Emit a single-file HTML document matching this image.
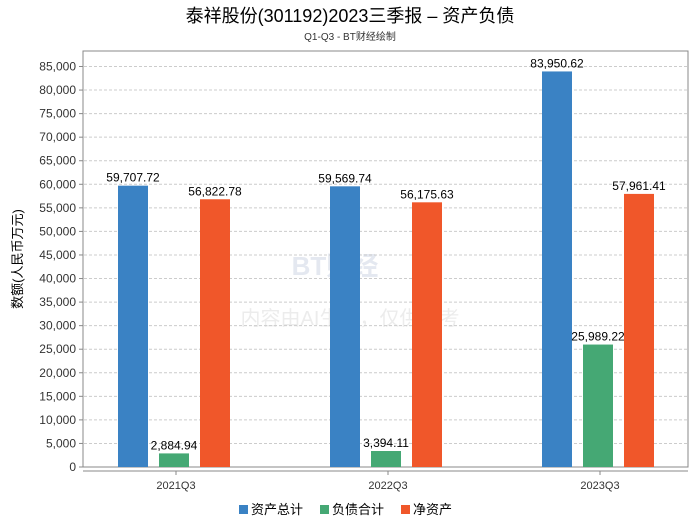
<!DOCTYPE html>
<html><head><meta charset="utf-8"><style>
body{margin:0;background:#fff;font-family:"Liberation Sans","Noto Sans CJK SC",sans-serif;}
svg text{font-family:"Liberation Sans","Noto Sans CJK SC",sans-serif;}
</style></head><body>
<svg id="c" width="700" height="524">
<text x="350" y="22" text-anchor="middle" font-size="18" fill="#000">泰祥股份(301192)2023三季报 – 资产负债</text>
<text x="350" y="40" text-anchor="middle" font-size="10" fill="#333">Q1-Q3 - BT财经绘制</text>
<rect x="83" y="51" width="605" height="416" fill="#fff" stroke="#888"/>
<text x="335" y="275" text-anchor="middle" font-size="26" fill="#e4e8f0" font-weight="bold">BT财经</text>
<text x="350" y="325" text-anchor="middle" font-size="20" fill="#ececec">内容由AI生成，仅供参考</text>
<text transform="translate(22,259) rotate(-90)" text-anchor="middle" font-size="13" fill="#000">数额(人民币万元)</text>
<g id="g"></g>
<g id="legend">
<rect x="239" y="505" width="9" height="9" fill="#3a82c4"/><text x="251" y="514" font-size="13">资产总计</text>
<rect x="320" y="505" width="9" height="9" fill="#45a874"/><text x="332" y="514" font-size="13">负债合计</text>
<rect x="401" y="505" width="9" height="9" fill="#f0572a"/><text x="413" y="514" font-size="13">净资产</text>
</g>
</svg>
<script>
const categories=["2021Q3","2022Q3","2023Q3"];
const totalAssets=[59707.72,59569.74,83950.62];
const liabilities=[2884.94,3394.11,25989.22];
const netAssets=[56822.78,56175.63,57961.41];
const yTicks=[0,5000,10000,15000,20000,25000,30000,35000,40000,45000,50000,55000,60000,65000,70000,75000,80000,85000];
const NS="http://www.w3.org/2000/svg",g=document.getElementById('g');
const y=v=>467-v*(400.5/85000);
const xc=i=>174+i*212;
function el(t,a,txt){const e=document.createElementNS(NS,t);for(const k in a)e.setAttribute(k,a[k]);if(txt!==undefined)e.textContent=txt;g.appendChild(e);return e;}
yTicks.forEach(t=>{
 if(t>0){const l=el('line',{x1:84,x2:687,y1:y(t),y2:y(t),stroke:'#ccc','stroke-dasharray':'3,2'});
 
 }
 const tk=el('line',{x1:79,x2:83,y1:y(t),y2:y(t),stroke:'#888'});
 
 
 const tx=el('text',{x:76,y:y(t)+4,'text-anchor':'end','font-size':12,fill:'#333'},t.toLocaleString('en-US'));
 
 
});
const ax=el('line',{x1:83,x2:688,y1:471,y2:471,stroke:'#888'});


const series=[[totalAssets,'#3a82c4','total-assets'],[liabilities,'#45a874','liabilities'],[netAssets,'#f0572a','net-assets']];
categories.forEach((c,i)=>{
 const tx=el('text',{x:xc(i)+2,y:489,'text-anchor':'middle','font-size':11,fill:'#333'},c);
 
 
 const tk=el('line',{x1:xc(i)+2,x2:xc(i)+2,y1:471,y2:475,stroke:'#888'});
 
 
 series.forEach((s,j)=>{
  const v=s[0][i],cx=xc(i)+(j-1)*41;
  const r=el('rect',{x:cx-15,y:y(v),width:30,height:467-y(v),fill:s[1]});
  
  
  const lb=el('text',{x:cx,y:y(v)-4,'text-anchor':'middle','font-size':12,fill:'#000'},v.toLocaleString('en-US',{minimumFractionDigits:2,maximumFractionDigits:2}));
  
  
 });
});
</script>
</body></html>
